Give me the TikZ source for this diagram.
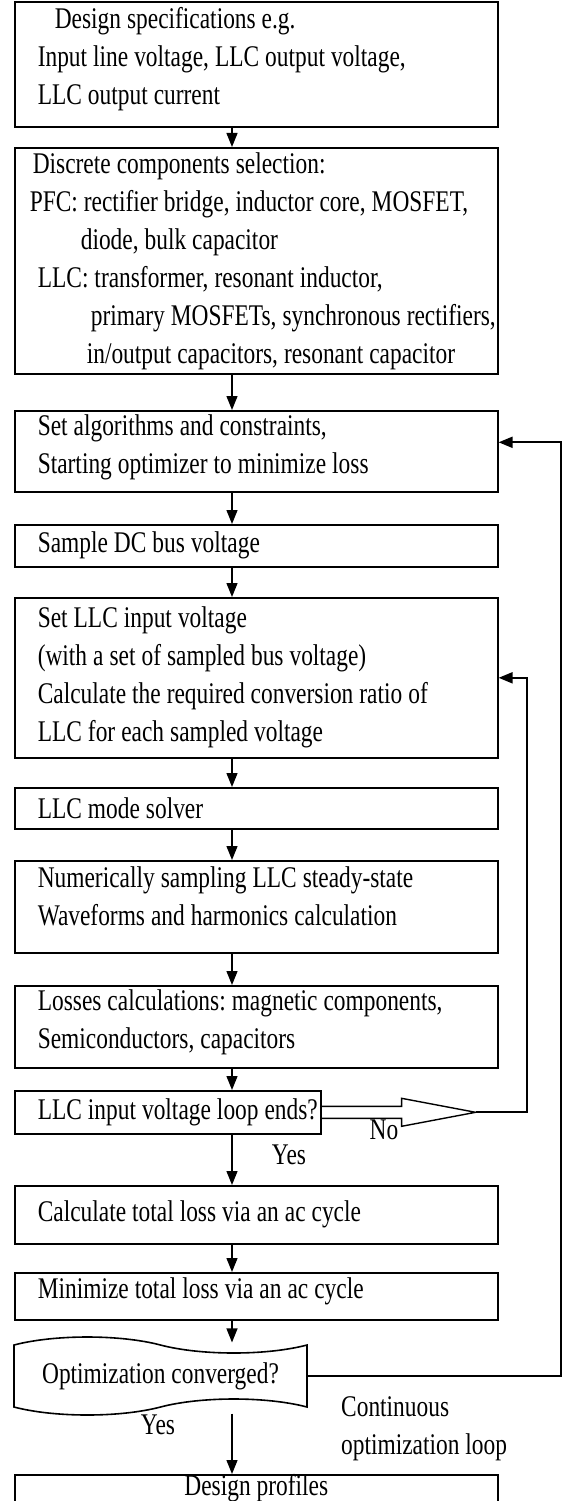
\documentclass[tikz,border=0pt]{standalone}
\usepackage{fontspec}
\setmainfont{Liberation Serif}[FakeStretch=0.78]
\usetikzlibrary{arrows.meta, positioning, shapes.symbols, calc}

\tikzset{
  stepbox/.style={draw, line width=1.6pt, anchor=north west, inner xsep=23pt, inner ysep=0pt,
    text width=437pt, execute at begin node={\raggedright\spaceskip=6pt plus 1pt\xspaceskip=6pt plus 1pt\relax},
    minimum width=483pt, font=\fontsize{30}{38}\selectfont},
  lift/.style={execute at end node={\rule[-#1]{0pt}{#1}}},
  flow/.style={-{Triangle[length=14pt, width=11pt]}, line width=1.3pt},
  loopline/.style={-{Triangle[length=14pt, width=11pt]}, line width=2pt},
  tag/.style={inner sep=0pt, font=\fontsize{30}{38}\selectfont}
}

\begin{document}
\begin{tikzpicture}[x=1pt, y=-1pt]
  \useasboundingbox (0,0) rectangle (580,1501);
  % guide lines
  \coordinate (axis) at (232,0);
  \coordinate (inner) at (527,0);
  \coordinate (outer) at (561,0);

  % Main chain of steps
  \node[stepbox, minimum height=125pt, lift=16pt] (spec) at (14,1)
    {\hspace*{17pt}Design specifications e.g.\\
     Input line voltage, LLC output voltage,\\
     LLC output current};
  \node[stepbox, minimum height=226pt] (parts) at (14,147)
    {\hspace*{-5pt}Discrete components selection:\\
     \hspace*{-8pt}\mbox{PFC: rectifier bridge, inductor core, MOSFET,}\\
     \hspace*{43pt}diode, bulk capacitor\\
     LLC: transformer, resonant inductor,\\
     \hspace*{53pt}\mbox{primary MOSFETs, synchronous rectifiers,}\\
     \hspace*{49pt}in/output capacitors, resonant capacitor};
  \node[stepbox, minimum height=81pt, lift=15pt] (algo) at (14,410)
    {Set algorithms and constraints,\\
     Starting optimizer to minimize loss};
  \node[stepbox, minimum height=42pt] (sample) at (14,524) {Sample DC bus voltage};
  \node[stepbox, minimum height=160pt] (vin) at (14,597)
    {Set LLC input voltage\\
     (with a set of sampled bus voltage)\\
     Calculate the required conversion ratio of\\
     LLC for each sampled voltage};
  \node[stepbox, minimum height=41pt] (mode) at (14,787) {LLC mode solver};
  \node[stepbox, minimum height=92pt, lift=21pt] (wave) at (14,860)
    {Numerically sampling LLC steady-state\\
     Waveforms and harmonics calculation};
  \node[stepbox, minimum height=82pt, lift=15pt] (loss) at (14,985)
    {Losses calculations: magnetic components,\\
     Semiconductors, capacitors};
  \node[stepbox, minimum height=43pt, minimum width=306pt, text width=260pt] (loopq) at (14,1090)
    {\mbox{LLC input voltage loop ends?}};
  \node[stepbox, minimum height=58pt] (calc) at (14,1185) {Calculate total loss via an ac cycle};
  \node[stepbox, minimum height=47pt, lift=17pt] (minim) at (14,1272) {Minimize total loss via an ac cycle};
  \node[tape, draw, line width=1.6pt, minimum width=293pt, minimum height=78pt, tape bend height=16pt,
    tape bend top=out and in, tape bend bottom=in and out, inner sep=0pt,
    font=\fontsize{30}{38}\selectfont] (conv) at (160.5,1376) {Optimization converged?};
  \node[stepbox, minimum height=26pt, execute at begin node={\centering\spaceskip=6pt\relax}] (profile) at (14,1474)
    {Design profiles};

  % Downward arrows
  \draw[flow] (spec.south -| axis) -- (parts.north -| axis);
  \draw[flow] (parts.south -| axis) -- (algo.north -| axis);
  \draw[flow] (algo.south -| axis) -- (sample.north -| axis);
  \draw[flow] (sample.south -| axis) -- (vin.north -| axis);
  \draw[flow] (vin.south -| axis) -- (mode.north -| axis);
  \draw[flow] (mode.south -| axis) -- (wave.north -| axis);
  \draw[flow] (wave.south -| axis) -- (loss.north -| axis);
  \draw[flow] (loss.south -| axis) -- (loopq.north -| axis);
  \draw[flow] (loopq.south -| axis) -- (calc.north -| axis);
  \draw[flow] (calc.south -| axis) -- (minim.north -| axis);
  \draw[flow] (minim.south -| axis) -- ($(conv.north -| axis)+(0,-2)$);
  \draw[flow] ($(conv.south -| axis)+(0,6)$) -- (profile.north -| axis);

  % Hollow "No" arrow and inner loop
  \draw[line width=1.4pt] ($(loopq.east)+(0,-6)$) -- ++(80,0) -- ++(0,-8)
    -- ++(74,14) coordinate (notip) -- ++(-74,14) -- ++(0,-8) -- ++(-80,0);
  \draw[loopline] (notip) -| (inner |- vin.east) -- (vin.east);

  % Outer optimization loop
  \draw[loopline] (conv.east) -| ($(outer |- algo.east)+(0,-9)$) -- ($(algo.east)+(0,-9)$);

  % Labels
  \node[tag] (no) at (384,1130) {No};
  \node[tag] (yes1) at (289,1155) {Yes};
  \node[tag] (yes2) at (158,1425) {Yes};
  \node[tag, align=left, anchor=north west] (cont) at (341,1396)
    {Continuous\\optimization loop};
\end{tikzpicture}
\end{document}
